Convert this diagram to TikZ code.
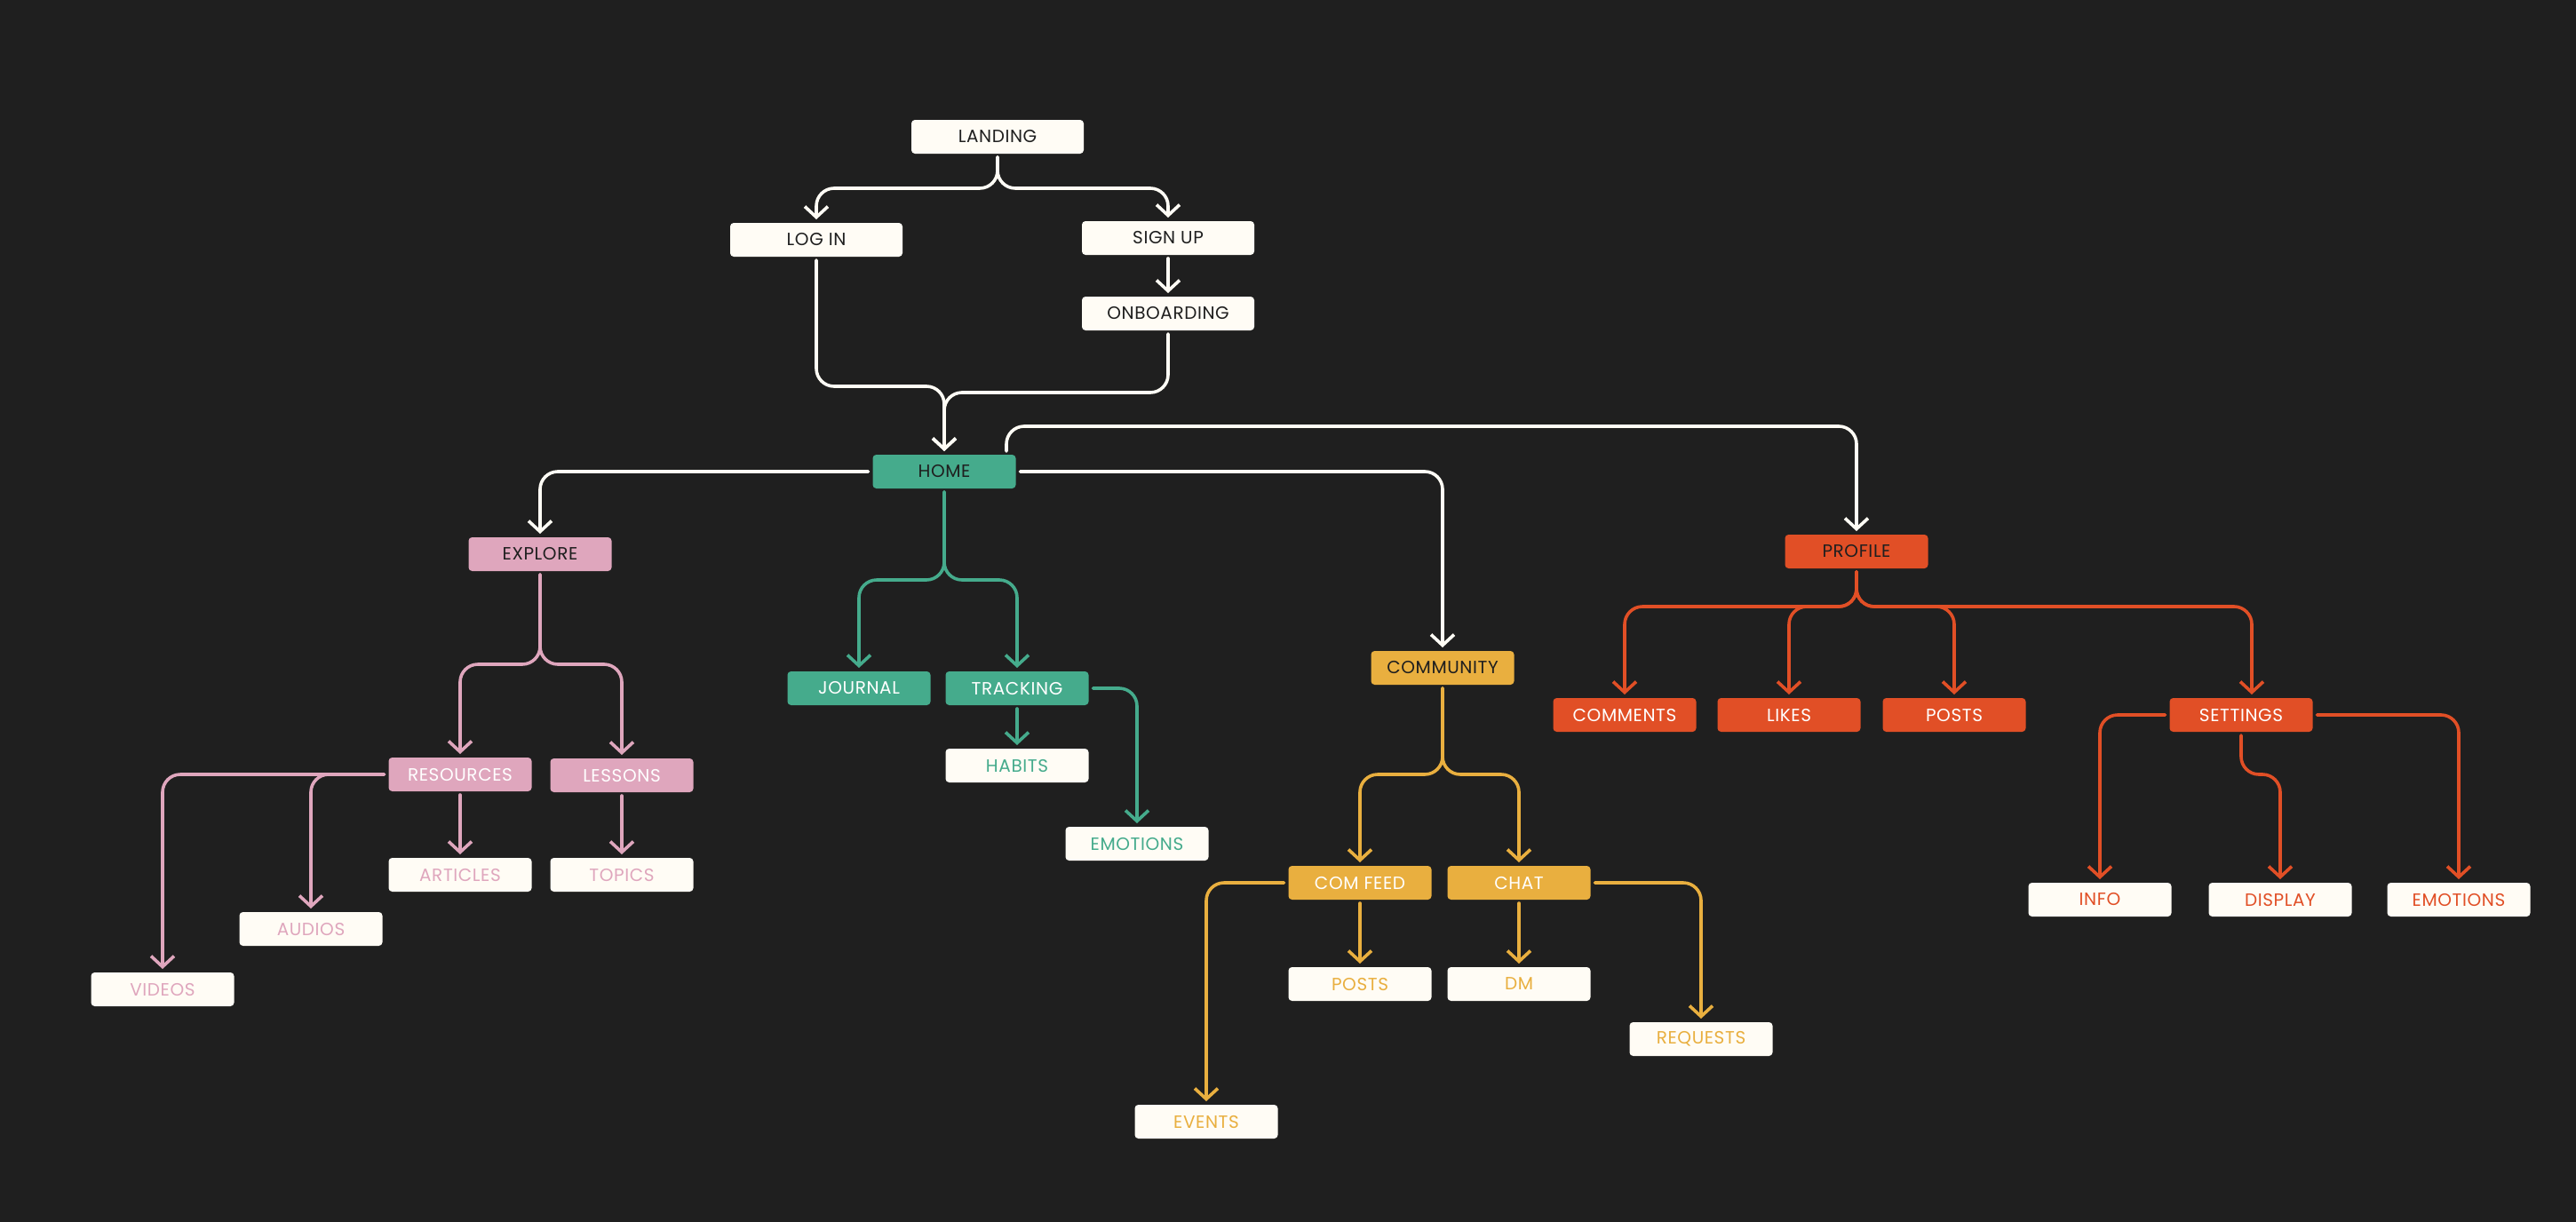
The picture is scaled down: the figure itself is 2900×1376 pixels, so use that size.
\documentclass[tikz,border=0pt]{standalone}
\usepackage{fontspec}
\setmainfont{Poppins}[LetterSpace=3]
\usetikzlibrary{arrows.meta}
\definecolor{bg}{HTML}{1F1F1F}
\definecolor{cream}{HTML}{FFFCF5}
\definecolor{mgreen}{HTML}{45AB8C}
\definecolor{mpink}{HTML}{DFA6BD}
\definecolor{myellow}{HTML}{E9AF3F}
\definecolor{mred}{HTML}{E14F26}
\begin{document}
\begin{tikzpicture}[x=1pt,y=-1pt,
  box/.style={rounded corners=4pt, minimum height=38pt, minimum width=161pt, inner sep=0pt,
    outer xsep=5pt, outer ysep=4pt, font=\fontsize{20}{22}\selectfont},
  nav/.style={box, fill=cream, text=bg, minimum width=194pt},
  hub/.style={box, fill=#1, text=bg},
  sub/.style={box, fill=#1, text=white},
  leaf/.style={box, fill=cream, text=#1},
  conn/.style={draw=#1, line width=3.6pt, rounded corners=20pt, line cap=round, line join=round,
    -{Straight Barb[length=12pt,width=26pt]}},
  link/.style={draw=#1, line width=3.6pt, rounded corners=20pt, line cap=round, line join=round}
]
\fill[bg] (0,0) rectangle (2900,1376);
\useasboundingbox (0,0) rectangle (2900,1376);

% top navigation
\node[nav] (landing) at (1123,154) {LANDING};
\node[nav] (login) at (919,270) {LOG IN};
\node[nav] (signup) at (1315,268) {SIGN UP};
\node[nav] (onboard) at (1315,353) {ONBOARDING};
\node[hub=mgreen] (home) at (1063,531) {HOME};
\coordinate (hometop) at ([xshift=70pt]home.north);

% explore (pink)
\node[hub=mpink] (explore) at (608,624) {EXPLORE};
\node[sub=mpink] (resources) at (518,872) {RESOURCES};
\node[sub=mpink] (lessons) at (700,873) {LESSONS};
\node[leaf=mpink] (articles) at (518,985) {ARTICLES};
\node[leaf=mpink] (topics) at (700,985) {TOPICS};
\node[leaf=mpink] (audios) at (350,1046) {AUDIOS};
\node[leaf=mpink] (videos) at (183,1114) {VIDEOS};

% home children (green)
\node[sub=mgreen] (journal) at (967,775) {JOURNAL};
\node[sub=mgreen] (tracking) at (1145,775) {TRACKING};
\node[leaf=mgreen] (habits) at (1145,862) {HABITS};
\node[leaf=mgreen] (emotionsg) at (1280,950) {EMOTIONS};

% community (yellow)
\node[hub=myellow] (community) at (1624,752) {COMMUNITY};
\node[sub=myellow] (comfeed) at (1531,994) {COM FEED};
\node[sub=myellow] (chat) at (1710,994) {CHAT};
\node[leaf=myellow] (postsy) at (1531,1108) {POSTS};
\node[leaf=myellow] (dm) at (1710,1108) {DM};
\node[leaf=myellow] (requests) at (1915,1170) {REQUESTS};
\node[leaf=myellow] (events) at (1358,1263) {EVENTS};

% profile (red)
\node[hub=mred] (profile) at (2090,621) {PROFILE};
\node[sub=mred] (comments) at (1829,805) {COMMENTS};
\node[sub=mred] (likes) at (2014,805) {LIKES};
\node[sub=mred] (postsr) at (2200,805) {POSTS};
\node[sub=mred] (settings) at (2523,805) {SETTINGS};
\node[leaf=mred] (info) at (2364,1013) {INFO};
\node[leaf=mred] (display) at (2567,1013) {DISPLAY};
\node[leaf=mred] (emotionsr) at (2768,1013) {EMOTIONS};

% white connectors
\draw[conn=cream] (landing.south) -- (landing.south |- 0,212) -- (login.north |- 0,212) -- (login.north);
\draw[conn=cream] (landing.south) -- (landing.south |- 0,212) -- (signup.north |- 0,212) -- (signup.north);
\draw[conn=cream] (signup.south) -- (onboard.north);
\draw[conn=cream] (login.south) -- (login.south |- 0,435) -- (home.north |- 0,435) -- (home.north);
\draw[conn=cream] (onboard.south) -- (onboard.south |- 0,442) -- (home.north |- 0,442) -- (home.north);
\draw[conn=cream] (home.west) -- (explore.north |- home.west) -- (explore.north);
\draw[conn=cream] (home.east) -- (community.north |- home.east) -- (community.north);
\draw[conn=cream] (hometop) -- (hometop |- 0,480) -- (profile.north |- 0,480) -- (profile.north);

% green connectors
\draw[conn=mgreen] (home.south) -- (home.south |- 0,653) -- (journal.north |- 0,653) -- (journal.north);
\draw[conn=mgreen] (home.south) -- (home.south |- 0,653) -- (tracking.north |- 0,653) -- (tracking.north);
\draw[conn=mgreen] (tracking.south) -- (habits.north);
\draw[conn=mgreen] (tracking.east) -- (emotionsg.north |- tracking.east) -- (emotionsg.north);

% pink connectors
\draw[conn=mpink] (explore.south) -- (explore.south |- 0,748) -- (resources.north |- 0,748) -- (resources.north);
\draw[conn=mpink] (explore.south) -- (explore.south |- 0,748) -- (lessons.north |- 0,748) -- (lessons.north);
\draw[conn=mpink] (resources.south) -- (articles.north);
\draw[conn=mpink] (lessons.south) -- (topics.north);
\draw[conn=mpink] (resources.west) -- (videos.north |- resources.west) -- (videos.north);
\draw[conn=mpink] (resources.west) -- (audios.north |- resources.west) -- (audios.north);

% yellow connectors
\draw[conn=myellow] (community.south) -- (community.south |- 0,872) -- (comfeed.north |- 0,872) -- (comfeed.north);
\draw[conn=myellow] (community.south) -- (community.south |- 0,872) -- (chat.north |- 0,872) -- (chat.north);
\draw[conn=myellow] (comfeed.south) -- (postsy.north);
\draw[conn=myellow] (chat.south) -- (dm.north);
\draw[conn=myellow] (chat.east) -- (requests.north |- chat.east) -- (requests.north);
\draw[conn=myellow] (comfeed.west) -- (events.north |- comfeed.west) -- (events.north);

% red connectors
\coordinate (setin) at ([xshift=12pt]settings.north);
\draw[conn=mred] (profile.south) -- (profile.south |- 0,683) -- (comments.north |- 0,683) -- (comments.north);
\draw[conn=mred] (profile.south) -- (profile.south |- 0,683) -- (likes.north |- 0,683) -- (likes.north);
\draw[conn=mred] (profile.south) -- (profile.south |- 0,683) -- (postsr.north |- 0,683) -- (postsr.north);
\draw[conn=mred] (profile.south) -- (profile.south |- 0,683) -- (setin |- 0,683) -- (setin);
\draw[conn=mred] (settings.west) -- (info.north |- settings.west) -- (info.north);
\draw[conn=mred] (settings.south) -- (settings.south |- 0,872) -- (display.north |- 0,872) -- (display.north);
\draw[conn=mred] (settings.east) -- (emotionsr.north |- settings.east) -- (emotionsr.north);
\end{tikzpicture}
\end{document}
